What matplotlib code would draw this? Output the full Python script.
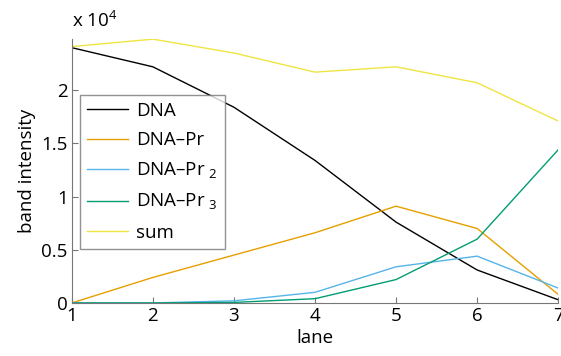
import matplotlib
matplotlib.use("Agg")
import matplotlib.pyplot as plt
from matplotlib.ticker import FuncFormatter

lanes = [1, 2, 3, 4, 5, 6, 7]
dna = [24000, 22200, 18400, 13400, 7600, 3100, 300]
dna_pr = [0, 2400, 4500, 6600, 9100, 7000, 800]
dna_pr2 = [0, 0, 200, 1000, 3400, 4400, 1400]
dna_pr3 = [0, 0, 50, 400, 2200, 6000, 14400]
total = [24100, 24800, 23500, 21700, 22200, 20700, 17100]

labels = ["DNA", "DNA\u2013Pr", "DNA\u2013Pr $_2$", "DNA\u2013Pr $_3$", "sum"]
colors = ["#000000", "#E69F00", "#56B4E9", "#009E73", "#F0E442"]

plt.rcParams["font.family"] = "Open Sans"
plt.rcParams["mathtext.fontset"] = "custom"
plt.rcParams["mathtext.rm"] = "Open Sans"

fig = plt.figure(figsize=(5.61, 3.56), dpi=100)
ax = fig.add_axes([0.128, 0.149, 0.867, 0.741])

for ys, lab, c in zip([dna, dna_pr, dna_pr2, dna_pr3, total], labels, colors):
    ax.plot(lanes, ys, color=c, lw=1.0, label=lab)

ax.set_xlim(1, 7)
ax.set_ylim(0, max(total))
ax.set_yticks([0, 5000, 10000, 15000, 20000])
ax.yaxis.set_major_formatter(FuncFormatter(lambda v, p: "%g" % (v / 1e4)))
ax.set_xticks(lanes)

for s in ["top", "right"]:
    ax.spines[s].set_visible(False)
for s in ["left", "bottom"]:
    ax.spines[s].set_color("#777777")
ax.tick_params(direction="in", length=4, color="#777777", labelsize=13.5, pad=3)

ax.set_xlabel("lane", fontsize=13.5, labelpad=3)
ax.set_ylabel("band intensity", fontsize=13.5, labelpad=4)
ax.text(0.0, 1.03, "x 10$^4$", transform=ax.transAxes, fontsize=13.5, va="bottom", ha="left")

leg = ax.legend(loc="upper left", bbox_to_anchor=(0.016, 0.79), fontsize=13.5,
                handlelength=2.2, handletextpad=0.4, labelspacing=0.6,
                fancybox=False, borderpad=0.4, borderaxespad=0)
leg.get_frame().set_edgecolor("#777777")
leg.get_frame().set_linewidth(1.0)

fig.savefig("out.png", dpi=100)
